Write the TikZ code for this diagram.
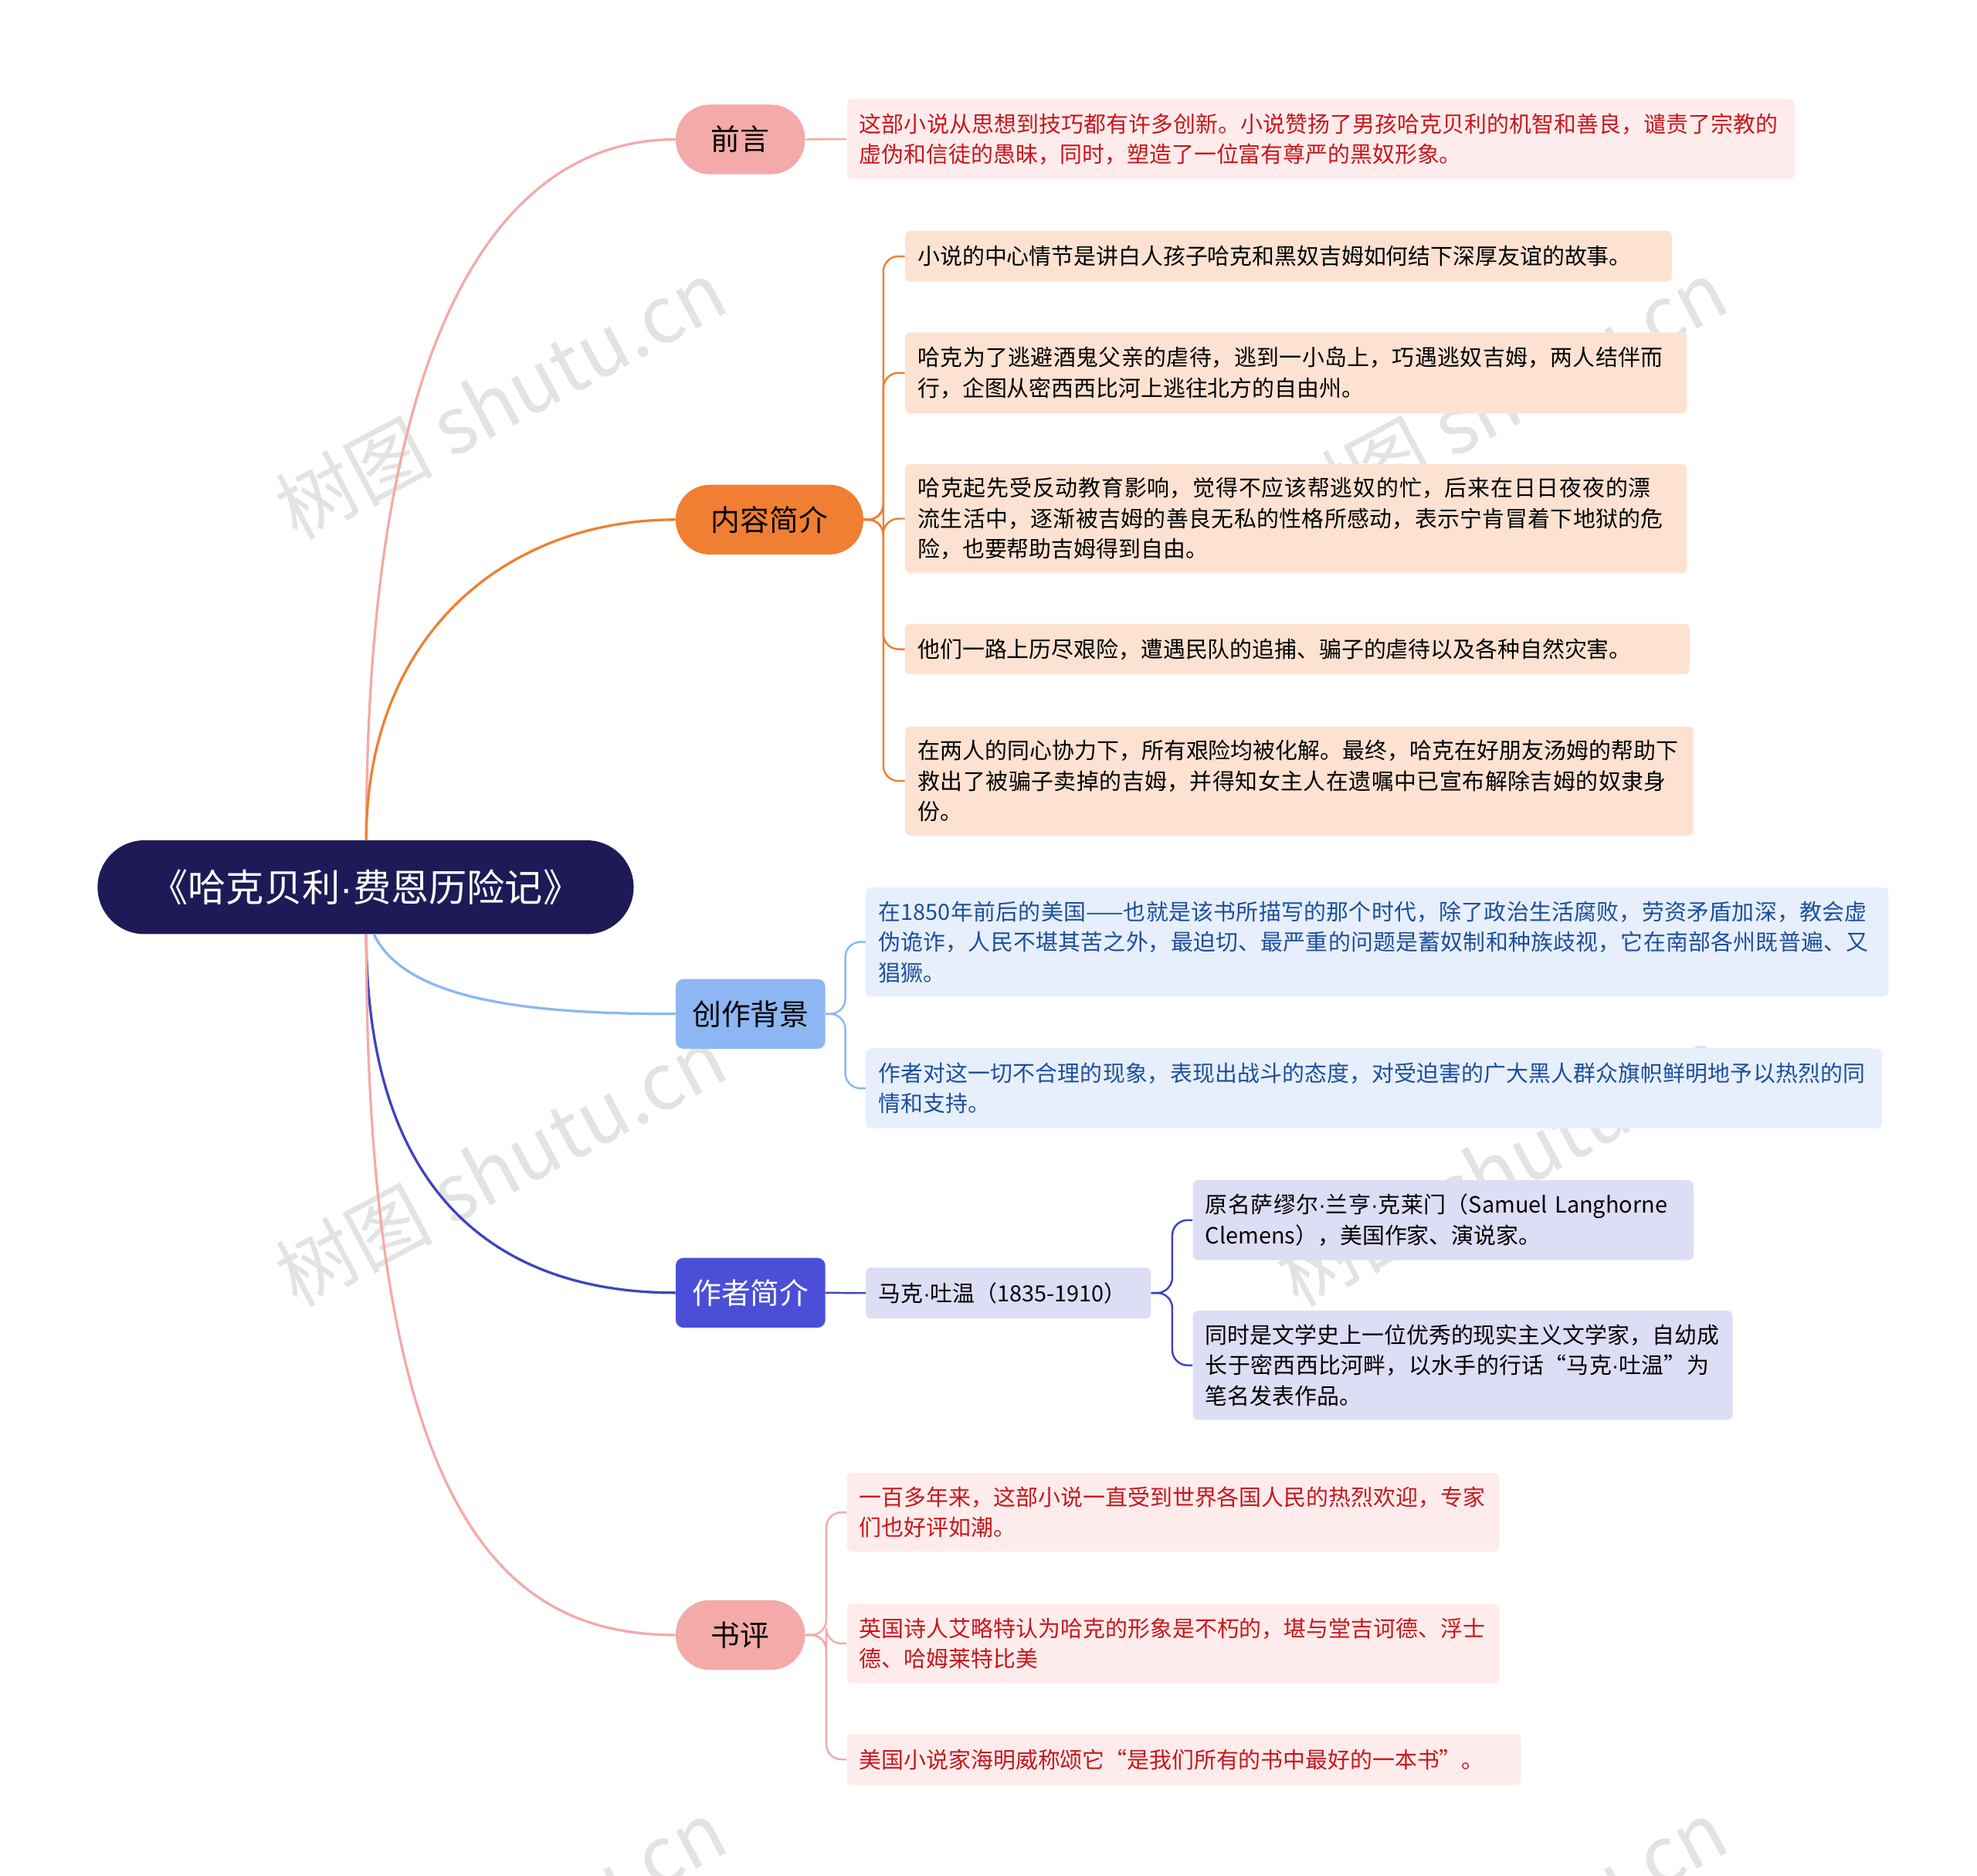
\documentclass[tikz,border=0pt]{standalone}
\usepackage{fontspec}
\setmainfont{Noto Sans CJK SC}
\newfontfamily\latf{Liberation Sans}
\newcommand{\dt}{{\latf ·}}
\XeTeXlinebreaklocale "zh"
\XeTeXlinebreakskip=0pt plus 1pt
\begin{document}
\begin{tikzpicture}[x=1pt,y=1pt,
 leaf/.style={rounded corners=4pt,inner xsep=10pt,align=left,font=\fontsize{17.6}{24}\selectfont,anchor=north west},
 pill/.style={rounded corners=27pt,minimum height=55pt,font=\fontsize{23}{28}\selectfont,anchor=west},
 box/.style={rounded corners=6pt,minimum height=55pt,font=\fontsize{23}{28}\selectfont,anchor=west},
 wm/.style={text=gray!22,font=\fontsize{62}{62}\selectfont,rotate=28}]
\useasboundingbox (0,0) rectangle (1560,-1480);
\definecolor{pinkC}{HTML}{F4AAA8}\definecolor{pinkF}{HTML}{FDECEB}\definecolor{redT}{HTML}{C8161D}
\definecolor{orgC}{HTML}{F07F33}\definecolor{orgF}{HTML}{FDE2D2}
\definecolor{bluC}{HTML}{8DB6F2}\definecolor{bluF}{HTML}{E7EFFC}\definecolor{bluT}{HTML}{1C4F9C}
\definecolor{purC}{HTML}{3F43C0}\definecolor{purN}{HTML}{4B4FD8}\definecolor{purF}{HTML}{DDDDF6}
\definecolor{navy}{HTML}{1E1A58}
% watermarks
\foreach \p in {(395,-315),(1185,-315),(395,-920),(1185,-920),(395,-1530),(1185,-1530)}
 \node[wm] at \p {树图 shutu.cn};
% root
\node[fill=navy,text=white,rounded corners=37pt,minimum width=423pt,minimum height=74pt,font=\fontsize{30}{34}\selectfont] (root) at (288.5,-700) {《哈克贝利\dt 费恩历险记》};
\coordinate (rt) at (289,-663); \coordinate (rb) at (289,-737);
% branch nodes
\node[pill,fill=pinkC,minimum width=102pt] (qy) at (533,-110) {前言};
\node[pill,fill=orgC,minimum width=148pt] (nr) at (533,-410) {内容简介};
\node[box,fill=bluC,minimum width=118pt] (cz) at (533,-800) {创作背景};
\node[box,fill=purN,text=white,minimum width=118pt] (zz) at (533,-1020) {作者简介};
\node[pill,fill=pinkC,minimum width=102pt] (sp) at (533,-1290) {书评};
% root connectors
\draw[pinkC,line width=2pt] (rt) .. controls (289,-250) and (400,-110) .. (qy.west);
\draw[orgC,line width=2pt] (rt) .. controls (289,-500) and (400,-410) .. (nr.west);
\draw[bluC,line width=2pt] (295,-737) .. controls (320,-790) and (420,-800) .. (cz.west);
\draw[purC,line width=2pt] (rb) .. controls (289,-950) and (400,-1020) .. (zz.west);
\draw[pinkC,line width=2pt] (rb) .. controls (289,-1200) and (400,-1290) .. (sp.west);
% leaves
\node[leaf,fill=pinkF,text=redT,text width=728pt,minimum height=63pt] (q1) at (668,-78) {这部小说从思想到技巧都有许多创新。小说赞扬了男孩哈克贝利的机智和善良，谴责了宗教的虚伪和信徒的愚昧，同时，塑造了一位富有尊严的黑奴形象。};
\node[leaf,fill=orgF,text width=585pt,minimum height=40pt] (n1) at (714,-182) {小说的中心情节是讲白人孩子哈克和黑奴吉姆如何结下深厚友谊的故事。};
\node[leaf,fill=orgF,text width=597pt,minimum height=64pt] (n2) at (714,-262) {哈克为了逃避酒鬼父亲的虐待，逃到一小岛上，巧遇逃奴吉姆，两人结伴而行，企图从密西西比河上逃往北方的自由州。};
\node[leaf,fill=orgF,text width=597pt,minimum height=86pt] (n3) at (714,-366) {哈克起先受反动教育影响，觉得不应该帮逃奴的忙，后来在日日夜夜的漂流生活中，逐渐被吉姆的善良无私的性格所感动，表示宁肯冒着下地狱的危险，也要帮助吉姆得到自由。};
\node[leaf,fill=orgF,text width=599pt,minimum height=40pt] (n4) at (714,-492) {他们一路上历尽艰险，遭遇民队的追捕、骗子的虐待以及各种自然灾害。};
\node[leaf,fill=orgF,text width=602pt,minimum height=86pt] (n5) at (714,-573) {在两人的同心协力下，所有艰险均被化解。最终，哈克在好朋友汤姆的帮助下救出了被骗子卖掉的吉姆，并得知女主人在遗嘱中已宣布解除吉姆的奴隶身份。};
\node[leaf,fill=bluF,text=bluT,text width=787pt,minimum height=86pt] (c1) at (683,-700) {在1850年前后的美国——也就是该书所描写的那个时代，除了政治生活腐败，劳资矛盾加深，教会虚伪诡诈，人民不堪其苦之外，最迫切、最严重的问题是蓄奴制和种族歧视，它在南部各州既普遍、又猖獗。};
\node[leaf,fill=bluF,text=bluT,text width=782pt,minimum height=63pt] (c2) at (683,-827) {作者对这一切不合理的现象，表现出战斗的态度，对受迫害的广大黑人群众旗帜鲜明地予以热烈的同情和支持。};
\node[leaf,fill=purF,text width=205pt,minimum height=40pt] (mk) at (683,-1000) {马克\dt 吐温（1835-1910）};
\node[leaf,fill=purF,text width=375pt,minimum height=63pt] (z1) at (941,-931) {原名萨缪尔\dt 兰亨\dt 克莱门（Samuel Langhorne Clemens），美国作家、演说家。};
\node[leaf,fill=purF,text width=406pt,minimum height=86pt] (z2) at (941,-1034) {同时是文学史上一位优秀的现实主义文学家，自幼成长于密西西比河畔，以水手的行话“马克\dt 吐温”为笔名发表作品。};
\node[leaf,fill=pinkF,text=redT,text width=495pt,minimum height=62pt] (s1) at (668,-1162) {一百多年来，这部小说一直受到世界各国人民的热烈欢迎，专家们也好评如潮。};
\node[leaf,fill=pinkF,text=redT,text width=495pt,minimum height=63pt] (s2) at (668,-1265) {英国诗人艾略特认为哈克的形象是不朽的，堪与堂吉诃德、浮士德、哈姆莱特比美};
\node[leaf,fill=pinkF,text=redT,text width=512pt,minimum height=40pt] (s3) at (668,-1368) {美国小说家海明威称颂它“是我们所有的书中最好的一本书”。};
% sub connectors
\draw[pinkC,line width=1.5pt] (qy.east) -- (q1.west);
\foreach \n in {n1,n2,n3,n4,n5}
 \draw[orgC,line width=1.5pt,rounded corners=12pt] (nr.east) -- (697,-410) |- (\n.west);
\foreach \n in {c1,c2}
 \draw[bluC,line width=1.5pt,rounded corners=12pt] (cz.east) -- (667,-800) |- (\n.west);
\draw[purC,line width=1.5pt] (zz.east) -- (mk.west);
\foreach \n in {z1,z2}
 \draw[purC,line width=1.5pt,rounded corners=12pt] (mk.east) -- (925,-1020) |- (\n.west);
\foreach \n in {s1,s2,s3}
 \draw[pinkC,line width=1.5pt,rounded corners=12pt] (sp.east) -- (652,-1290) |- (\n.west);
\end{tikzpicture}
\end{document}
